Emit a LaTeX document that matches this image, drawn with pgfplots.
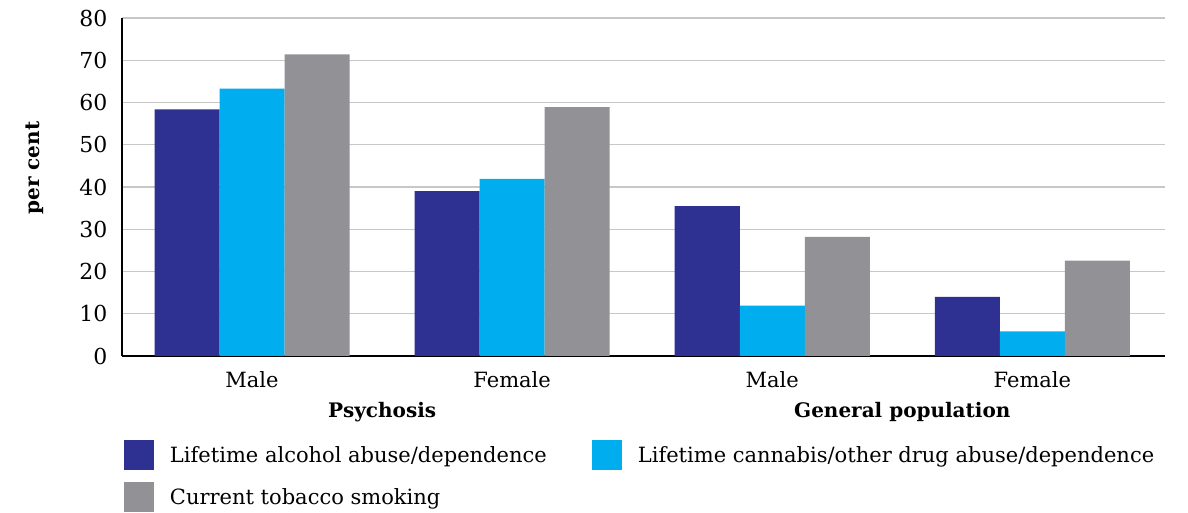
\documentclass[border=0pt]{standalone}
\usepackage{fontspec}
\setmainfont{DejaVu Serif}
\usepackage{pgfplots}
\pgfplotsset{compat=1.18}
\definecolor{cAlc}{RGB}{46,49,146}
\definecolor{cCan}{RGB}{0,174,239}
\definecolor{cTob}{RGB}{146,145,150}
\begin{document}
\begin{tikzpicture}[x=1pt,y=1pt]
\useasboundingbox (0,0) rectangle (1188,513);
\begin{axis}[
  at={(122pt,157pt)}, anchor=south west,
  scale only axis, width=1043pt, height=338pt,
  xmin=-0.5, xmax=3.51, ymin=0, ymax=80,
  ytick={0,10,...,80},
  xtick={0,1,2,3}, xticklabels={Male,Female,Male,Female},
  axis lines*=left,
  axis line style={line width=2.5pt,-},
  ymajorgrids, grid style={line width=1.2pt, color=black!22},
  major tick length=0pt,
  /pgf/number format/assume math mode=true,
  xticklabel style={font=\fontsize{21}{25}\selectfont, yshift=-12pt},
  yticklabel style={font=\fontsize{22}{26}\selectfont, xshift=-11pt},
  ylabel={per cent},
  ylabel style={at={(axis description cs:-0.0834,0.556)}, anchor=center, font=\bfseries\fontsize{20}{24}\selectfont},
  clip=false,
  legend columns=2,
  legend style={at={(axis description cs:0.0019,-0.2485)}, anchor=north west,
    draw=none, fill=none, inner sep=0pt, outer sep=0pt,
    nodes={inner sep=0pt, anchor=west},
    row sep=12pt, column sep=16pt,
    /tikz/every even column/.append style={column sep=45pt},
    font=\fontsize{21}{25}\selectfont},
]
\addplot[ybar, bar width=0.25, bar shift=0pt, fill=cAlc, draw=none,
  legend image code/.code={\fill[cAlc] (0pt,-15pt) rectangle (30pt,15pt);}]
  coordinates {(-0.25,58.4) (0.75,39.0) (1.75,35.5) (2.75,14.0)};
\addlegendentry{Lifetime alcohol abuse/dependence}
\addplot[ybar, bar width=0.25, bar shift=0pt, fill=cCan, draw=none,
  legend image code/.code={\fill[cCan] (0pt,-15pt) rectangle (30pt,15pt);}]
  coordinates {(0,63.3) (1,41.9) (2,11.9) (3,5.8)};
\addlegendentry{Lifetime cannabis/other drug abuse/dependence}
\addplot[ybar, bar width=0.25, bar shift=0pt, fill=cTob, draw=none,
  legend image code/.code={\fill[cTob] (0pt,-15pt) rectangle (30pt,15pt);}]
  coordinates {(0.25,71.4) (1.25,58.9) (2.25,28.2) (3.25,22.6)};
\addlegendentry{Current tobacco smoking}
\node[anchor=north, inner sep=0pt, yshift=-46pt, font=\bfseries\fontsize{20}{24}\selectfont] at (axis cs:0.5,0) {Psychosis};
\node[anchor=north, inner sep=0pt, yshift=-46pt, font=\bfseries\fontsize{20}{24}\selectfont] at (axis cs:2.5,0) {General population};
\end{axis}
\end{tikzpicture}
\end{document}
